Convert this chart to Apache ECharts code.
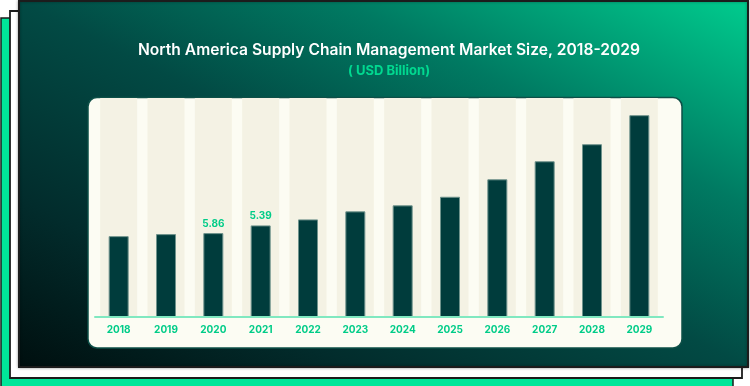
<!DOCTYPE html>
<html>
<head>
<meta charset="utf-8">
<style>
html,body{margin:0;padding:0;background:#ffffff;}
#chart{width:750px;height:386px;}
</style>
<script src="https://cdn.jsdelivr.net/npm/echarts@6/dist/echarts.min.js"></script>
</head>
<body>
<div id="chart"></div>
<script>
const categories = ['2018','2019','2020','2021','2022','2023','2024','2025','2026','2027','2028','2029'];
const marketSize = [5.65, 5.79, 5.86, 6.40, 6.82, 7.38, 7.80, 8.40, 9.62, 10.88, 12.07, 14.10];
const valueLabels = ['', '', '5.86', '5.39', '', '', '', '', '', '', '', ''];
const yMax = 15.3;
const bandValues = categories.map(() => yMax);

const chart = echarts.init(document.getElementById('chart'), null, {renderer: 'canvas'});
const FONT = 'Inter, "Open Sans", sans-serif';

const panelGradient = new echarts.graphic.LinearGradient(748, 1, 454.5, 585.6, [
  {offset: 0, color: '#00cc8e'},
  {offset: 0.28, color: '#007a62'},
  {offset: 0.5, color: '#024a44'},
  {offset: 0.77, color: '#022c2c'},
  {offset: 1, color: '#000f0f'}
], true);

const option = {
  backgroundColor: '#ffffff',
  animation: false,
  title: [
    {
      text: 'North America Supply Chain Management Market Size, 2018-2029',
      left: 384, top: 37, textAlign: 'center',
      textStyle: {color: '#ffffff', fontSize: 15.6, fontWeight: 600, fontFamily: FONT}
    },
    {
      text: '( USD Billion)',
      left: 384, top: 60, textAlign: 'center',
      textStyle: {color: '#00d990', fontSize: 13, fontWeight: 700, fontFamily: FONT}
    }
  ],
  graphic: [
    {type: 'rect', z: 0, shape: {x: 1, y: 18, width: 732, height: 380},
     style: {fill: '#00e699', stroke: '#1c1c1c', lineWidth: 1.5}},
    {type: 'rect', z: 1, shape: {x: 10, y: 11, width: 732, height: 367},
     style: {fill: '#ffffff', stroke: '#1c1c1c', lineWidth: 1.8}},
    {type: 'rect', z: 2, shape: {x: 19, y: 1, width: 729, height: 366},
     style: {
       fill: panelGradient,
       stroke: '#1c1c1c', lineWidth: 2,
       shadowColor: 'rgba(0,0,0,0.35)', shadowBlur: 3
     }},
    {type: 'rect', z: 3, shape: {x: 88, y: 97.5, width: 594, height: 250.5, r: 9},
     style: {fill: '#fcfcf3', stroke: '#0d4f47', lineWidth: 1.5}}
  ],
  grid: {left: 95, right: 87, top: 98, bottom: 69, containLabel: false},
  xAxis: [
    {
      type: 'category', data: categories,
      axisLine: {show: true, lineStyle: {color: '#80e8c0', width: 2}},
      axisTick: {show: false},
      axisLabel: {color: '#00cc88', fontSize: 10, fontWeight: 700, fontFamily: FONT, margin: 8},
      z: 12
    },
    {
      type: 'category', data: categories, show: false
    }
  ],
  yAxis: {type: 'value', min: 0, max: yMax, show: false, splitLine: {show: false}},
  series: [
    {
      type: 'bar', xAxisIndex: 1, data: bandValues, barWidth: 37, silent: true, z: 5,
      itemStyle: {color: '#f4f2e4'}
    },
    {
      type: 'bar', xAxisIndex: 0, data: marketSize, barWidth: 20, z: 10,
      itemStyle: {color: '#003c3c', borderColor: '#6f938c', borderWidth: 1},
      label: {
        show: true, position: 'top', distance: 4,
        formatter: p => valueLabels[p.dataIndex],
        color: '#00cc88', fontSize: 10, fontWeight: 700, fontFamily: FONT
      }
    }
  ]
};
chart.setOption(option);
</script>
</body>
</html>
